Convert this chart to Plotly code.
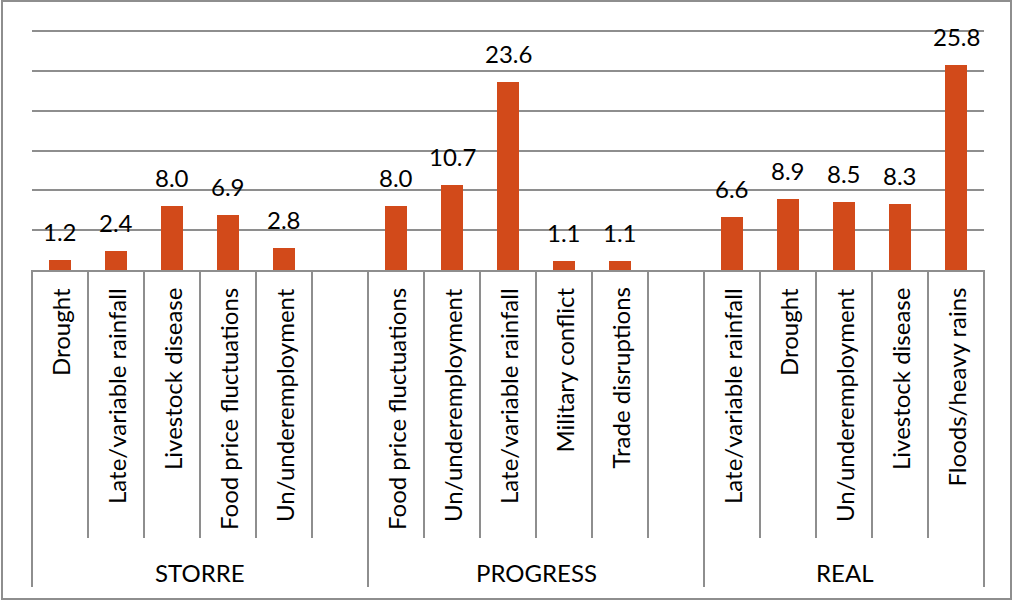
import plotly.graph_objects as go

# Survey groups and the shocks reported in each (percent of households)
groups = ["STORRE", "PROGRESS", "REAL"]

storre_labels = ["Drought", "Late/variable rainfall", "Livestock disease",
                 "Food price fluctuations", "Un/underemployment"]
storre_values = [1.2, 2.4, 8.0, 6.9, 2.8]

progress_labels = ["Food price fluctuations", "Un/underemployment",
                   "Late/variable rainfall", "Military conflict", "Trade disruptions"]
progress_values = [8.0, 10.7, 23.6, 1.1, 1.1]

real_labels = ["Late/variable rainfall", "Drought", "Un/underemployment",
               "Livestock disease", "Floods/heavy rains"]
real_values = [6.6, 8.9, 8.5, 8.3, 25.8]

group_labels = [storre_labels, progress_labels, real_labels]
group_values = [storre_values, progress_values, real_values]

# Each group occupies six slots (five bars + one gap); the last group has no gap
SLOTS_PER_GROUP = 6
group_slots = [SLOTS_PER_GROUP, SLOTS_PER_GROUP, len(real_labels)]

W, H = 1012, 602
M_L, M_R, M_T, M_B = 32, 28, 28, 332
PLOT_W = W - M_L - M_R
PLOT_H = H - M_T - M_B

X_MIN = -0.5
X_MAX = sum(group_slots) - 0.5
Y_MAX = 30.4

BAR_COLOR = "#D24A1A"
LINE_COLOR = "#8E8E8E"
FONT = "Lato"
FONT_SIZE = 24


def px_x(px):
    return (px - M_L) / PLOT_W


def px_y(py):
    return (H - M_B - py) / PLOT_H


def data_x_to_paper(x):
    return (x - X_MIN) / (X_MAX - X_MIN)


xs, ys, cats = [], [], []
group_starts = []
start = 0
for labels, values, n in zip(group_labels, group_values, group_slots):
    group_starts.append(start)
    for i, (lab, val) in enumerate(zip(labels, values)):
        xs.append(start + i)
        ys.append(val)
        cats.append(lab)
    start += n

fig = go.Figure(
    go.Bar(
        x=xs,
        y=ys,
        width=0.41,
        marker=dict(color=BAR_COLOR, line=dict(width=0)),
        hovertext=cats,
    )
)

annotations = []
# value labels above bars
for x, v in zip(xs, ys):
    annotations.append(dict(
        x=x, y=v, xref="x", yref="y", text=f"{v:.1f}", showarrow=False,
        xanchor="center", yanchor="bottom", yshift=12,
        font=dict(family=FONT, size=FONT_SIZE, color="#000000"),
    ))

# rotated category labels under the axis
for x, lab in zip(xs, cats):
    annotations.append(dict(
        x=x, y=px_y(286), xref="x", yref="paper", text=lab, showarrow=False,
        textangle=-90, xanchor="center", yanchor="top",
        font=dict(family=FONT, size=FONT_SIZE, color="#000000"),
    ))

# group labels
for g, s, n in zip(groups, group_starts, group_slots):
    annotations.append(dict(
        x=s + (n - 1) / 2, y=px_y(572), xref="x", yref="paper", text=g,
        showarrow=False, xanchor="center", yanchor="middle",
        font=dict(family=FONT, size=FONT_SIZE, color="#000000"),
    ))

shapes = []
group_edges = set(group_starts + [sum(group_slots)])
for k in range(sum(group_slots) + 1):
    bottom = 587 if k in group_edges else 538
    xp = data_x_to_paper(k - 0.5)
    shapes.append(dict(
        type="line", xref="paper", yref="paper",
        x0=xp, x1=xp, y0=0, y1=px_y(bottom),
        line=dict(color=LINE_COLOR, width=2),
    ))

# outer chart frame
shapes.append(dict(
    type="rect", xref="paper", yref="paper",
    x0=px_x(2), x1=px_x(1011), y0=px_y(1), y1=px_y(599),
    line=dict(color=LINE_COLOR, width=2), fillcolor="rgba(0,0,0,0)",
    layer="below",
))

fig.update_layout(
    width=W, height=H,
    margin=dict(l=M_L, r=M_R, t=M_T, b=M_B, pad=0),
    paper_bgcolor="white", plot_bgcolor="white",
    showlegend=False,
    bargap=0,
    xaxis=dict(range=[X_MIN, X_MAX], showticklabels=False, showgrid=False,
               zeroline=False, showline=True, linecolor=LINE_COLOR, linewidth=2,
               ticks="", fixedrange=True),
    yaxis=dict(range=[0, Y_MAX], tick0=0, dtick=5, showticklabels=False, showgrid=True,
               gridcolor=LINE_COLOR, gridwidth=2, zeroline=False,
               showline=False, ticks="", fixedrange=True),
    annotations=annotations,
    shapes=shapes,
)

fig.write_html("out.html")
